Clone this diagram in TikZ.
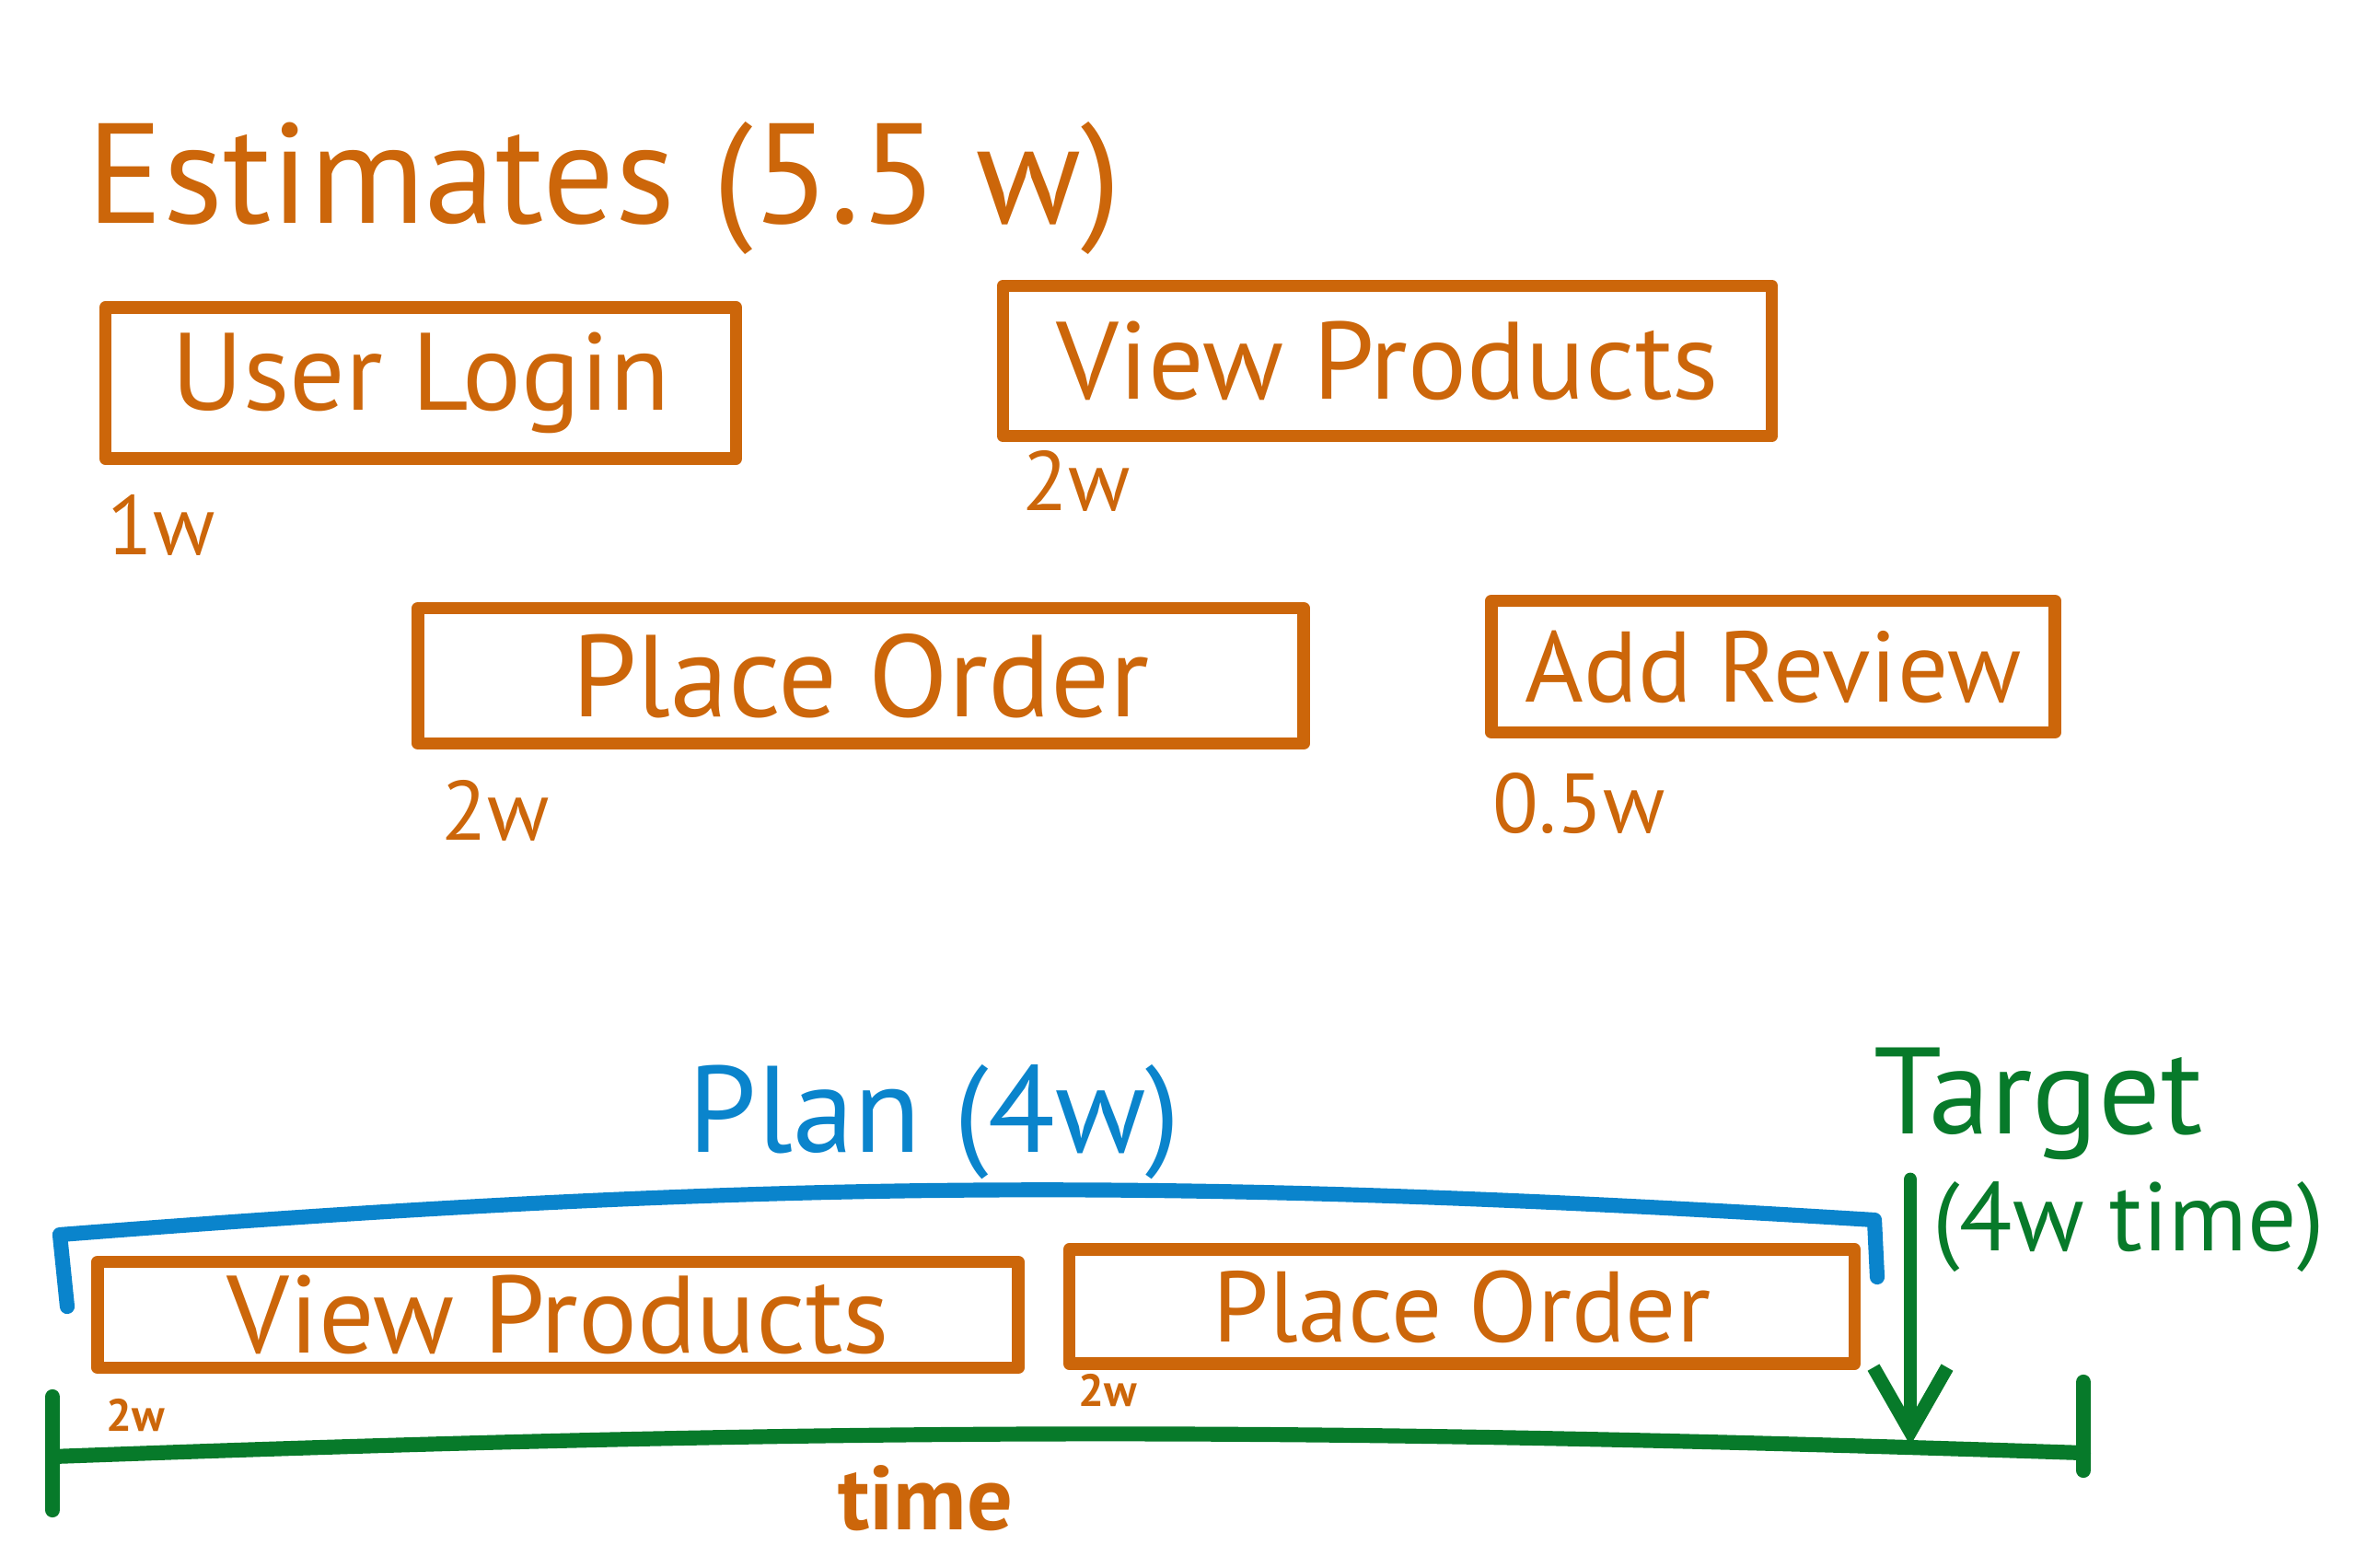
\documentclass[tikz,border=0pt]{standalone}
\usepackage{fontspec}
\setmainfont{PT Sans}
\usetikzlibrary{arrows.meta,positioning}
\definecolor{penorange}{HTML}{CC660A}
\definecolor{penblue}{HTML}{0A84CC}
\definecolor{pengreen}{HTML}{077A2A}

\tikzset{
  pen/.style={line width=4.2pt, line cap=round, line join=round},
  task/.style={pen, line width=3.9pt, draw=penorange, text=penorange, inner sep=0pt,
    font=\fontsize{34}{38}\selectfont},
  est/.style={text=penorange, inner sep=0pt, font=\fontsize{26}{30}\selectfont},
  smallest/.style={text=penorange, inner sep=0pt, font=\fontsize{14}{16}\selectfont\bfseries},
}

\begin{document}
\begin{tikzpicture}[>=Latex]
  \useasboundingbox (0,0) rectangle (25.58,17.02);

  % estimates
  \node[text=penorange, font=\fontsize{44}{48}\selectfont] (title) at (6.56,14.98) {Estimates (5.5 w)};

  \node[task, minimum width=6.85cm, minimum height=1.64cm] (login) at (4.57,12.86) {User Login};
  \node[task, minimum width=8.35cm, minimum height=1.63cm] (view) at (15.07,13.10) {View Products};
  \node[task, minimum width=9.62cm, minimum height=1.47cm, font=\fontsize{36}{40}\selectfont] (order) at (9.35,9.68) {Place Order};
  \node[task, minimum width=6.12cm, minimum height=1.43cm, font=\fontsize{31}{35}\selectfont] (review) at (19.26,9.78) {Add Review};

  \node[est, anchor=north west] (loginw) at ([xshift=0.08cm, yshift=-0.32cm]login.south west) {1w};
  \node[est, anchor=north west] (vieww) at ([xshift=0.27cm, yshift=-0.08cm]view.south west) {2w};
  \node[est, anchor=north west] (orderw) at ([xshift=0.32cm, yshift=-0.32cm]order.south west) {2w};
  \node[est, anchor=north west] (revieww) at ([xshift=0.08cm, yshift=-0.36cm]review.south west) {0.5w};

  % plan
  \node[text=penblue, font=\fontsize{38}{42}\selectfont] (plan) at (10.15,4.83) {Plan (4w)};
  \coordinate (pbl) at (0.73,2.83);
  \coordinate (ptl) at (0.65,3.61);
  \coordinate (ptr) at (20.36,3.77);
  \coordinate (pbr) at (20.39,3.15);
  \draw[pen, line width=4.6pt, penblue] (pbl) -- (ptl) to[bend left=4] (ptr) -- (pbr);

  \node[task, minimum width=10.0cm, minimum height=1.15cm] (viewp) at (6.06,2.74) {View Products};
  \node[task, minimum width=8.53cm, minimum height=1.24cm, font=\fontsize{31}{35}\selectfont] (orderp) at (15.88,2.83) {Place Order};
  \node[smallest, anchor=north west] (viewpw) at ([xshift=0.16cm, yshift=-0.26cm]viewp.south west) {2w};
  \node[smallest, anchor=north west] (orderpw) at ([xshift=0.16cm, yshift=-0.04cm]orderp.south west) {2w};

  % time axis
  \coordinate (axl) at (0.57,1.20);
  \coordinate (axr) at (22.63,1.24);
  \coordinate (hit) at (20.75,1.32);
  \draw[pen, line width=4.6pt, pengreen] (axl) to[bend left=2] (axr);
  \draw[pen, line width=4.6pt, pengreen] (0.57,1.85) -- (0.57,0.62);
  \draw[pen, line width=4.6pt, pengreen] (22.63,2.01) -- (22.63,1.05);
  \node[text=penorange, font=\fontsize{28}{32}\selectfont\bfseries] (time) at (10.05,0.75) {time};

  % target
  \node[text=pengreen, font=\fontsize{38}{42}\selectfont] (target) at (22.14,5.03) {Target};
  \node[text=pengreen, font=\fontsize{30}{34}\selectfont] (targetw) at (23.12,3.69) {(4w time)};
  \coordinate (tgt) at (20.75,4.21);
  \draw[pen, pengreen, -{Straight Barb[length=7mm, width=8mm, line width=4.2pt]}] (tgt) -- (hit);
\end{tikzpicture}
\end{document}
